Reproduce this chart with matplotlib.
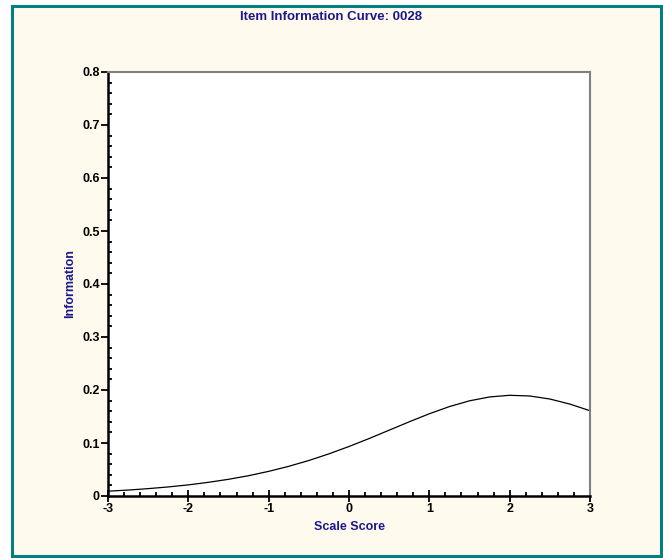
import numpy as np
import matplotlib.pyplot as plt
from matplotlib.patches import Rectangle
from matplotlib.ticker import MultipleLocator

# item information
theta = [-3, -2.75, -2.5, -2.25, -2, -1.75, -1.5, -1.25, -1, -0.75, -0.5, -0.25,
         0, 0.25, 0.5, 0.75, 1, 1.25, 1.5, 1.75, 2, 2.25, 2.5, 2.75, 3]
info = [0.0091, 0.0112, 0.0139, 0.0171, 0.0210, 0.0258, 0.0315, 0.0383, 0.0465,
        0.0560, 0.0670, 0.0795, 0.0934, 0.1084, 0.1242, 0.1400, 0.1552, 0.1687,
        0.1796, 0.1869, 0.1900, 0.1887, 0.1830, 0.1734, 0.1609]

navy = '#1a1a8c'
cream = '#fff9ee'
teal = '#008080'

plt.rcParams['font.family'] = ['Liberation Sans', 'DejaVu Sans']
plt.rcParams['axes.unicode_minus'] = False

W, H = 663, 558
fig = plt.figure(figsize=(W / 100, H / 100), dpi=100)
fig.patch.set_facecolor('white')

# framed cream background
frame = Rectangle((11.5 / W, 1 - 556 / H), (661 - 11.5) / W, (556 - 6) / H,
                  transform=fig.transFigure, facecolor=cream, edgecolor=teal,
                  linewidth=2.2, zorder=-10)
fig.patches.append(frame)

ax = fig.add_axes([108 / W, 1 - 496 / H, (590 - 108) / W, (496 - 72) / H])
ax.set_zorder(1)
ax.set_facecolor('white')
ax.plot(theta, info, color='black', linewidth=0.9)

ax.set_xlim(-3, 3)
ax.set_ylim(0, 0.8)
ax.xaxis.set_major_locator(MultipleLocator(1))
ax.xaxis.set_minor_locator(MultipleLocator(0.2))
ax.yaxis.set_minor_locator(MultipleLocator(0.02))
ax.set_yticks(np.arange(0, 0.85, 0.1))
ax.set_yticklabels(['0'] + ['%.1f' % v for v in np.arange(0.1, 0.85, 0.1)])

for side in ['top', 'right']:
    ax.spines[side].set_color('#808080')
    ax.spines[side].set_linewidth(1.5)
for side in ['left', 'bottom']:
    ax.spines[side].set_color('black')
    ax.spines[side].set_linewidth(1.8)

ax.tick_params(which='major', direction='out', length=5, width=1.3,
               labelsize=9, pad=1)
ax.tick_params(which='minor', direction='in', length=3, width=1.3)
ax.tick_params(axis='x', which='major', direction='inout', length=8)
for lbl in ax.get_xticklabels() + ax.get_yticklabels():
    lbl.set_fontweight('bold')

ax.set_xlabel('Scale Score', color=navy, fontsize=9, fontweight='bold', labelpad=4.5)
ax.set_ylabel('Information', color=navy, fontsize=9, fontweight='bold', labelpad=4)

fig.text(0.5, 1 - 17 / H, 'Item Information Curve: 0028', ha='center', va='center',
         color=navy, fontsize=9.5, fontweight='bold')

fig.savefig('out.png', dpi=100, facecolor=fig.get_facecolor())
